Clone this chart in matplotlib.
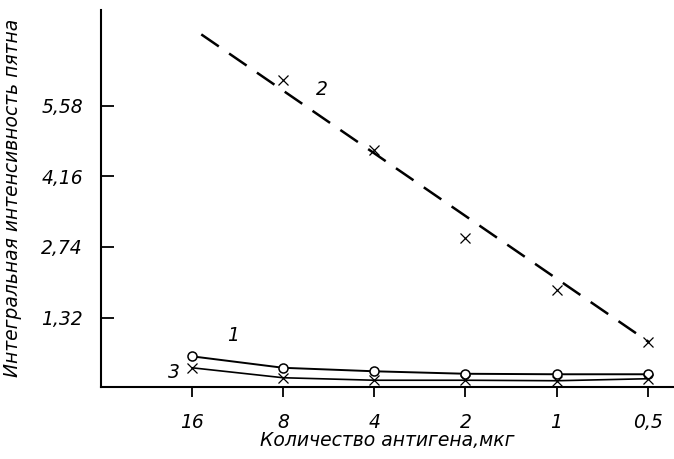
import matplotlib
matplotlib.use("Agg")
import matplotlib.pyplot as plt
import numpy as np

categories = ["16", "8", "4", "2", "1", "0,5"]
y_ticks = [1.32, 2.74, 4.16, 5.58]
y_tick_labels = ["1,32", "2,74", "4,16", "5,58"]

series1 = [0.54, 0.31, 0.24, 0.19, 0.18, 0.18]      # circles, curve 1
series3 = [0.31, 0.11, 0.06, 0.06, 0.05, 0.09]      # crosses, curve 3
series2_x = ["8", "4", "2", "1", "0,5"]
series2 = [6.09, 4.68, 2.91, 1.88, 0.82]            # crosses, curve 2
trend2_x = [0.1, 5.02]                               # trend line for curve 2 (category units)
trend2_y = [7.01, 0.82]

plt.rcParams['font.family'] = ['DejaVu Sans']
fig = plt.figure(figsize=(6.74, 4.59), dpi=100)
ax = fig.add_axes([0.150, 0.1575, 0.850, 0.8207])

xpos = np.arange(len(categories))
x2 = [categories.index(c) for c in series2_x]

ax.plot(xpos, series1, color="black", lw=1.4, marker="o", ms=6.5, mfc="white", mec="black", mew=1.1, zorder=3)
ax.plot(xpos, series3, color="black", lw=1.2, marker="x", ms=6.5, mec="black", mew=0.9, zorder=3)
ax.plot(trend2_x, trend2_y, color="black", lw=1.8, dashes=(8.5, 5))
ax.plot(x2, series2, ls="none", marker="x", ms=6.5, mec="black", mew=0.9)

fs = 13.5
ax.set_xlim(-1.0, 5.29)
ax.set_ylim(-0.07, 7.5)
ax.set_xticks(xpos)
ax.set_xticklabels(categories, fontstyle="italic", fontsize=fs)
ax.set_yticks(y_ticks)
ax.set_yticklabels(y_tick_labels, fontstyle="italic", fontsize=fs)

for s in ["top", "right"]:
    ax.spines[s].set_visible(False)
for s in ["left", "bottom"]:
    ax.spines[s].set_linewidth(1.5)

ax.tick_params(axis="y", direction="in", length=9, width=1.3, pad=13)
ax.tick_params(axis="x", direction="out", length=7, width=1.3, pad=12)

ax.set_xlabel("Количество антигена,мкг", fontstyle="italic", fontsize=fs, labelpad=-1)
ax.set_ylabel("Интегральная интенсивность пятна", fontstyle="italic", fontsize=fs, labelpad=14)

ax.text(0.45, 0.95, "1", fontstyle="italic", fontsize=fs, ha="center", va="center")
ax.text(-0.2, 0.22, "3", fontstyle="italic", fontsize=fs, ha="center", va="center")
ax.text(1.42, 5.9, "2", fontstyle="italic", fontsize=fs, ha="center", va="center")

fig.savefig("out.png", dpi=100)
